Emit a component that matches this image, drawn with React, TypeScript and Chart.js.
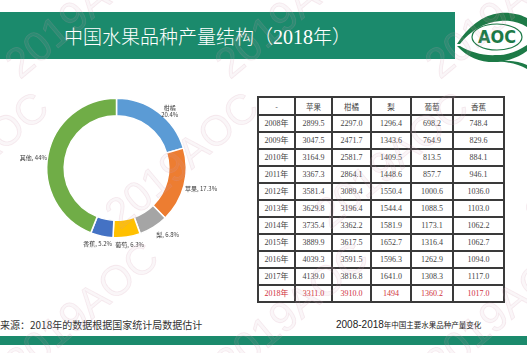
import React, { useEffect, useRef } from 'react';
import { Chart, registerables } from 'chart.js';

Chart.register(...registerables);

// ---- Doughnut data ----
const categories = ['柑橘', '苹果', '梨', '葡萄', '香蕉', '其他'];
const shares = [20.4, 17.3, 6.8, 6.3, 5.2, 44];
const sliceColors = ['#5b9bd5', '#ed7d31', '#a5a5a5', '#ffc000', '#4472c4', '#70ad47'];

// ---- Table data ----
const tableHeader = ['-', '苹果', '柑橘', '梨', '葡萄', '香蕉'];
const years = ['2008年', '2009年', '2010年', '2011年', '2012年', '2013年', '2014年', '2015年', '2016年', '2017年', '2018年'];
const apple = ['2899.5', '3047.5', '3164.9', '3367.3', '3581.4', '3629.8', '3735.4', '3889.9', '4039.3', '4139.0', '3311.0'];
const citrus = ['2297.0', '2471.7', '2581.7', '2864.1', '3089.4', '3196.4', '3362.2', '3617.5', '3591.5', '3816.8', '3910.0'];
const pear = ['1296.4', '1343.6', '1409.5', '1448.6', '1550.4', '1544.4', '1581.9', '1652.7', '1596.3', '1641.0', '1494'];
const grape = ['698.2', '764.9', '813.5', '857.7', '1000.6', '1088.5', '1173.1', '1316.4', '1262.9', '1308.3', '1360.2'];
const banana = ['748.4', '829.6', '884.1', '946.1', '1036.0', '1103.0', '1062.2', '1062.7', '1094.0', '1117.0', '1017.0'];

const titleText = '中国水果品种产量结构（';
const titleYear = '2018';
const titleEnd = '年）';
const sourceText = '来源：2018年的数据根据国家统计局数据估计';
const captionNum = '2008-2018';
const captionText = '年中国主要水果品种产量变化';

const GREEN = '#1b8a6c';
const LOGO_GREEN = '#1d7a47';

const labelPlugin = {
  id: 'sliceLabels',
  afterDatasetsDraw(chart: any) {
    const ctx = chart.ctx;
    const meta = chart.getDatasetMeta(0);
    ctx.save();
    ctx.font = '6px "Noto Sans CJK SC"';
    ctx.fillStyle = '#404040';
    ctx.textAlign = 'center';
    ctx.textBaseline = 'middle';
    meta.data.forEach((arc: any, i: number) => {
      const p = arc.getProps(['x', 'y', 'startAngle', 'endAngle', 'outerRadius'], true);
      const mid = (p.startAngle + p.endAngle) / 2;
      const c = Math.cos(mid);
      const s = Math.sin(mid);
      const r = p.outerRadius + (Math.abs(c) > 0.9 ? 1 : 5);
      const ax = p.x + c * r;
      const ay = p.y + s * r + 3;
      const lines = i === 0 ? [categories[i], shares[i] + '%'] : [categories[i] + ', ' + shares[i] + '%'];
      const w = Math.max(...lines.map((l) => ctx.measureText(l).width));
      let cx = ax + (c * w) / 2;
      if (c > 0.3) cx = ax + w / 2;
      else if (c < -0.3) cx = ax - w / 2;
      const lh = 7;
      lines.forEach((l, k) => {
        ctx.fillText(l, cx, ay - ((lines.length - 1) * lh) / 2 + k * lh);
      });
    });
    ctx.restore();
  },
};

const colWidths = [37, 37, 39, 40, 42, 51];

export default function App() {
  const ref = useRef<HTMLCanvasElement>(null);

  useEffect(() => {
    const chart = new Chart(ref.current as HTMLCanvasElement, {
      type: 'doughnut',
      data: {
        labels: categories,
        datasets: [
          {
            data: shares,
            backgroundColor: sliceColors,
            borderColor: '#ffffff',
            borderWidth: 1.5,
          },
        ],
      },
      options: {
        responsive: false,
        animation: false,
        cutout: '75%',
        layout: { padding: { left: 46, right: 63, top: 29, bottom: 29 } },
        plugins: { legend: { display: false }, tooltip: { enabled: false } },
      },
      plugins: [labelPlugin],
    } as any);
    return () => chart.destroy();
  }, []);

  const rows = years.map((y, i) => [y, apple[i], citrus[i], pear[i], grape[i], banana[i]]);

  const cellStyle = (isRed: boolean): React.CSSProperties => ({
    border: '2px solid #3a3a3a',
    padding: 0,
    textAlign: 'center',
    verticalAlign: 'middle',
    color: isRed ? '#d0323c' : '#444',
    height: 15,
    lineHeight: '15px',
    overflow: 'hidden',
    whiteSpace: 'nowrap',
  });

  const wm: { x: number; y: number }[] = [];
  for (let gy = -1; gy < 4; gy++) {
    for (let gx = -1; gx < 4; gx++) {
      wm.push({ x: gx * 210 + (gy % 2) * 100 + 20, y: gy * 150 + 80 });
    }
  }

  return (
    <div
      style={{
        position: 'fixed',
        left: 0,
        top: 0,
        width: 527,
        height: 353,
        overflow: 'hidden',
        background: '#ffffff',
        fontFamily: '"Noto Sans CJK SC", sans-serif',
      }}
    >
      {/* header band */}
      <div style={{ position: 'absolute', left: 0, top: 12, width: 455, height: 47, background: GREEN }} />
      <div
        style={{
          position: 'absolute',
          left: 64,
          top: 12,
          height: 47,
          lineHeight: '47px',
          color: '#ffffff',
          fontSize: 19,
          fontWeight: 300,
          whiteSpace: 'nowrap',
        }}
      >
        {titleText}
        <span style={{ fontFamily: '"Liberation Serif", serif', fontSize: 20 }}>{titleYear}</span>
        {titleEnd}
      </div>

      {/* logo */}
      <svg style={{ position: 'absolute', left: 0, top: 0 }} width={527} height={353}>
        <path
          d="M457,44 C468,27 482,15 500,13 C512,12 522,15 527,18 L527,27 C519,22 510,20 500,21 C485,22 470,31 460,44 Z"
          fill={LOGO_GREEN}
        />
        <path
          d="M457,46 C468,58 482,63 498,62 C510,61 520,56 527,51 L527,45 C518,51 508,55 497,55 C483,56 470,52 460,46 Z"
          fill={LOGO_GREEN}
        />
        <path d="M494,61 C508,62 518,64 527,69 L527,65 C518,61 507,60 494,61 Z" fill={LOGO_GREEN} />
        <ellipse cx={497} cy={37} rx={25} ry={13} fill="none" stroke={LOGO_GREEN} strokeWidth={1.2} />
        <text
          x={478}
          y={43}
          fill={LOGO_GREEN}
          fontFamily='"DejaVu Sans", sans-serif'
          fontWeight="bold"
          fontSize={17}
          textLength={38}
          lengthAdjust="spacingAndGlyphs"
        >
          AOC
        </text>
      </svg>

      {/* doughnut */}
      <canvas
        ref={ref}
        width={250}
        height={200}
        style={{ position: 'absolute', left: 0, top: 68, width: 250, height: 200 }}
      />

      {/* table */}
      <table
        style={{
          position: 'absolute',
          left: 257,
          top: 96,
          borderCollapse: 'collapse',
          tableLayout: 'fixed',
          fontSize: 8,
          fontFamily: '"Liberation Serif", "Noto Sans CJK SC", serif',
        }}
      >
        <colgroup>
          {colWidths.map((w, i) => (
            <col key={i} style={{ width: w }} />
          ))}
        </colgroup>
        <tbody>
          <tr>
            {tableHeader.map((h, i) => (
              <td
                key={i}
                style={{ ...cellStyle(false), height: 16, fontSize: 7.5, fontFamily: '"Noto Sans CJK SC", sans-serif' }}
              >
                {h}
              </td>
            ))}
          </tr>
          {rows.map((r, ri) => (
            <tr key={ri}>
              {r.map((v, ci) => (
                <td key={ci} style={cellStyle(ri === rows.length - 1)}>
                  {v}
                </td>
              ))}
            </tr>
          ))}
        </tbody>
      </table>

      {/* caption */}
      <div
        style={{
          position: 'absolute',
          left: 336,
          top: 314,
          whiteSpace: 'nowrap',
          color: '#222',
          lineHeight: '14px',
        }}
      >
        <span style={{ fontFamily: '"Liberation Sans", sans-serif', fontSize: 10 }}>{captionNum}</span>
        <span style={{ fontSize: 7.5 }}>{captionText}</span>
      </div>

      {/* source */}
      <div
        style={{
          position: 'absolute',
          left: 0,
          top: 318,
          whiteSpace: 'nowrap',
          color: '#333',
          fontSize: 10,
          lineHeight: '14px',
        }}
      >
        {sourceText}
      </div>

      {/* bottom band */}
      <div style={{ position: 'absolute', left: 0, top: 336, width: 527, height: 9, background: GREEN }} />

      {/* watermark */}
      <svg style={{ position: 'absolute', left: 0, top: 0, pointerEvents: 'none' }} width={527} height={353}>
        {wm.map((p, i) => (
          <text
            key={i}
            x={p.x}
            y={p.y}
            transform={`rotate(-40 ${p.x} ${p.y})`}
            fill="rgba(210,170,185,0.10)"
            stroke="rgba(210,150,170,0.18)"
            strokeWidth={0.8}
            fontFamily='"Liberation Sans", sans-serif'
            fontSize={42}
          >
            2019AOC
          </text>
        ))}
      </svg>
    </div>
  );
}
